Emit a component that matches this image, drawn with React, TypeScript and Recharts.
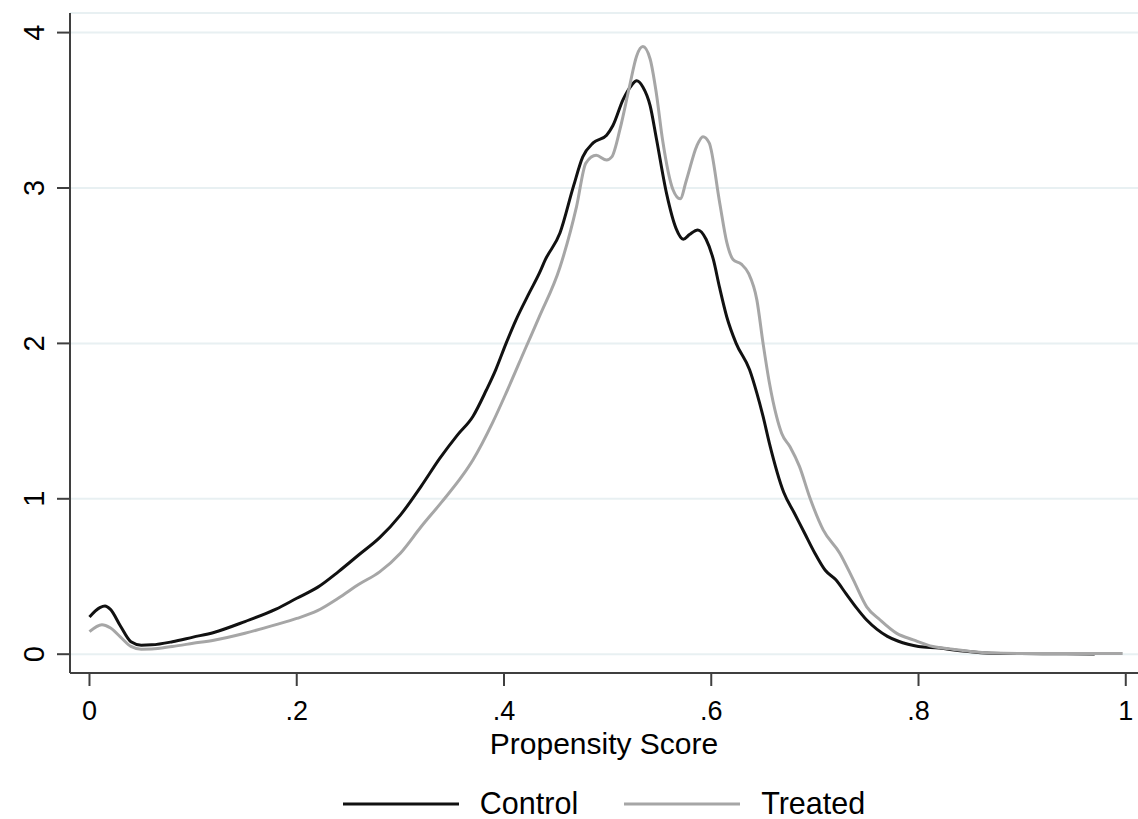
import { LineChart, Line, XAxis, YAxis, CartesianGrid, Legend, Label } from "recharts";

const controlX = [
  0, 0.01, 0.015, 0.02, 0.03, 0.04, 0.05, 0.06, 0.08, 0.1, 0.12, 0.15, 0.18, 0.2, 0.22, 0.24, 0.26, 0.28, 0.3,
  0.32, 0.338, 0.355, 0.37, 0.383, 0.392, 0.402, 0.4115, 0.424, 0.434, 0.44, 0.454, 0.467, 0.476, 0.486, 0.499,
  0.505, 0.515, 0.523, 0.528, 0.534, 0.541, 0.547, 0.557, 0.566, 0.573, 0.579, 0.587, 0.595, 0.602, 0.608,
  0.615, 0.624, 0.637, 0.644, 0.65, 0.656, 0.67, 0.68, 0.69, 0.7, 0.71, 0.72, 0.73, 0.74, 0.75, 0.76, 0.77,
  0.78, 0.79, 0.8, 0.82, 0.84, 0.86, 0.88, 0.92, 0.97,
];
const controlY = [
  0.24, 0.3, 0.31, 0.29, 0.18, 0.08, 0.058, 0.06, 0.08, 0.11, 0.14, 0.21, 0.29, 0.36, 0.43, 0.53, 0.64, 0.75, 0.895,
  1.08, 1.26, 1.41, 1.53, 1.7, 1.83, 2.0, 2.15, 2.32, 2.45, 2.54, 2.71, 3.01, 3.2, 3.29, 3.34,
  3.4, 3.57, 3.66, 3.69, 3.65, 3.53, 3.32, 2.96, 2.74, 2.67, 2.7, 2.73, 2.67, 2.54, 2.36,
  2.17, 2.0, 1.83, 1.68, 1.53, 1.36, 1.04, 0.91, 0.78, 0.65, 0.54, 0.48, 0.39, 0.3, 0.22, 0.16, 0.115,
  0.085, 0.064, 0.05, 0.04, 0.022, 0.01, 0.005, 0.003, 0.002,
];

const treatedX = [
  0, 0.012, 0.02, 0.03, 0.04, 0.05, 0.06, 0.08, 0.1, 0.12, 0.15, 0.18, 0.2, 0.22, 0.24, 0.26, 0.28, 0.3, 0.32,
  0.34, 0.36, 0.37, 0.389, 0.402, 0.4215, 0.434, 0.454, 0.47, 0.479, 0.489, 0.499, 0.504, 0.512, 0.521, 0.528,
  0.534, 0.541, 0.547, 0.553, 0.563, 0.57, 0.576, 0.586, 0.592, 0.598, 0.608, 0.615, 0.621, 0.629, 0.636,
  0.644, 0.65, 0.656, 0.663, 0.668, 0.676, 0.685, 0.695, 0.708, 0.724, 0.737, 0.75, 0.763, 0.779, 0.795, 0.814,
  0.833, 0.85, 0.87, 0.9, 0.997,
];
const treatedY = [
  0.145, 0.19, 0.17, 0.11, 0.05, 0.032, 0.033, 0.05, 0.07, 0.09, 0.135, 0.19, 0.23, 0.28, 0.36, 0.45, 0.53, 0.65, 0.82,
  0.98, 1.15, 1.25, 1.49, 1.68, 1.98, 2.17, 2.49, 2.88, 3.16, 3.21, 3.18, 3.2, 3.38, 3.65, 3.85,
  3.91, 3.83, 3.61, 3.31, 2.99, 2.93, 3.05, 3.27, 3.33, 3.29, 2.91, 2.65, 2.54, 2.51, 2.45,
  2.28, 2.0, 1.75, 1.53, 1.42, 1.335, 1.21, 1.01, 0.8, 0.65, 0.48, 0.305, 0.22, 0.134, 0.092, 0.049,
  0.032, 0.018, 0.008, 0.005, 0.004,
];

const xTicks = [0, 0.2, 0.4, 0.6, 0.8, 1];
const yTicks = [0, 1, 2, 3, 4];

const controlData = controlX.map((x, i) => ({ x, y: controlY[i] }));
const treatedData = treatedX.map((x, i) => ({ x, y: treatedY[i] }));

const FONT = "'Liberation Sans', Arial, sans-serif";
const AXIS = "#3f3f3f";

const fmtX = (v: number) => (v === 0 ? "0" : v === 1 ? "1" : String(v).replace(/^0/, ""));

const YTick = ({ x, y, payload }: any) => (
  <text
    x={x}
    y={y}
    transform={`rotate(-90 ${x} ${y})`}
    textAnchor="middle"
    dominantBaseline="central"
    fontFamily={FONT}
    fontSize={29}
    fill="#000"
  >
    {payload.value}
  </text>
);

const LegendBox = () => (
  <div style={{ display: "flex", justifyContent: "center", alignItems: "center", fontFamily: FONT, fontSize: 30.5, color: "#000" }}>
    <svg width={116} height={6}>
      <line x1={0} y1={3} x2={116} y2={3} stroke="#111" strokeWidth={3} />
    </svg>
    <span style={{ marginLeft: 21, marginRight: 46 }}>Control</span>
    <svg width={116} height={6}>
      <line x1={0} y1={3} x2={116} y2={3} stroke="#a6a6a6" strokeWidth={3} />
    </svg>
    <span style={{ marginLeft: 21 }}>Treated</span>
  </div>
);

export default function App() {
  return (
    <div style={{ position: "absolute", left: 0, top: 0, width: 1138, height: 819, background: "#fff" }}>
      <LineChart width={1138} height={819} margin={{ top: 13, right: 0, left: 0, bottom: 46 }}>
        <CartesianGrid horizontal vertical={false} stroke="#e8f0f2" strokeWidth={2} />
        <XAxis
          dataKey="x"
          type="number"
          domain={[-0.0188, 1.0118]}
          allowDataOverflow
          ticks={xTicks}
          tickFormatter={fmtX}
          height={100}
          tickSize={13}
          tickMargin={14.5}
          stroke={AXIS}
          strokeWidth={2}
          tick={{ fontFamily: FONT, fontSize: 27, fill: "#000" }}
        >
          <Label
            content={({ viewBox }: any) => (
              <text
                x={viewBox.x + viewBox.width / 2}
                y={viewBox.y + 81}
                textAnchor="middle"
                fontFamily={FONT}
                fontSize={30}
                fill="#000"
              >
                Propensity Score
              </text>
            )}
          />
        </XAxis>
        <YAxis
          dataKey="y"
          type="number"
          domain={[-0.121, 4.126]}
          allowDataOverflow
          ticks={yTicks}
          width={70}
          tickSize={13}
          tickMargin={23}
          stroke={AXIS}
          strokeWidth={2}
          tick={<YTick />}
        />
        <Legend
          layout="horizontal"
          verticalAlign="middle"
          align="center"
          content={<LegendBox />}
          wrapperStyle={{ position: "absolute", left: 70, top: 786, width: 1068 }}
        />
        <Line
          data={controlData}
          dataKey="y"
          name="Control"
          type="monotone"
          stroke="#111"
          strokeWidth={3}
          dot={false}
          isAnimationActive={false}
        />
        <Line
          data={treatedData}
          dataKey="y"
          name="Treated"
          type="monotone"
          stroke="#a6a6a6"
          strokeWidth={3}
          dot={false}
          isAnimationActive={false}
        />
      </LineChart>
    </div>
  );
}
